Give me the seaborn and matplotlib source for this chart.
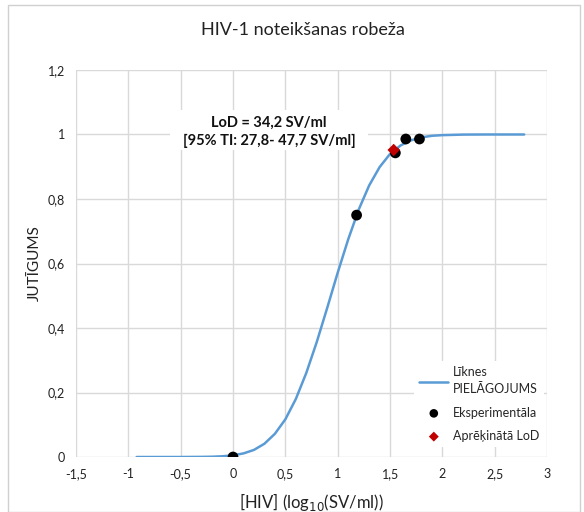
import matplotlib
matplotlib.use("Agg")
import matplotlib.pyplot as plt
import seaborn as sns
import pandas as pd
from matplotlib.patches import Rectangle

# Fitted curve
curve_x = [-0.92, -0.7, -0.5, -0.3, -0.2, -0.1, 0.0, 0.1, 0.2, 0.3, 0.4, 0.5, 0.6, 0.7, 0.8, 0.9,
           1.0, 1.1, 1.2, 1.3, 1.4, 1.5, 1.6, 1.7, 1.8, 1.9, 2.0, 2.2, 2.4, 2.78]
curve_y = [0.0, 0.0, 0.0, 0.0004, 0.0009, 0.0023, 0.0052, 0.0112, 0.022, 0.0412, 0.072, 0.117, 0.180,
           0.261, 0.357, 0.463, 0.572, 0.675, 0.767, 0.842, 0.899, 0.940, 0.966, 0.982, 0.991, 0.996,
           0.998, 0.9997, 1.0, 1.0]

# Experimental points
exp_x = [0.0, 1.18, 1.55, 1.65, 1.78]
exp_y = [0.0, 0.75, 0.943, 0.986, 0.986]

# Calculated LoD
lod_x = [1.534]
lod_y = [0.952]

x_ticks = [-1.5, -1, -0.5, 0, 0.5, 1, 1.5, 2, 2.5, 3]
x_labels = ["-1,5", "-1", "-0,5", "0", "0,5", "1", "1,5", "2", "2,5", "3"]
y_ticks = [0, 0.2, 0.4, 0.6, 0.8, 1.0, 1.2]
y_labels = ["0", "0,2", "0,4", "0,6", "0,8", "1", "1,2"]

sns.set_theme(style="white")
plt.rcParams['font.family'] = ['Lato', 'DejaVu Sans']

fig = plt.figure(figsize=(5.84, 5.12), dpi=100)
ax = fig.add_axes([0.130, 0.1074, 0.807, 0.7559])

curve_df = pd.DataFrame({"x": curve_x, "y": curve_y})
exp_df = pd.DataFrame({"x": exp_x, "y": exp_y})
lod_df = pd.DataFrame({"x": lod_x, "y": lod_y})

sns.lineplot(data=curve_df, x="x", y="y", ax=ax, color="#5B9BD5", linewidth=1.8,
             label="Līknes\nPIELĀGOJUMS", zorder=3)
sns.scatterplot(data=exp_df, x="x", y="y", ax=ax, color="black", s=60, edgecolor="none",
                label="Eksperimentāla", zorder=4)
sns.scatterplot(data=lod_df, x="x", y="y", ax=ax, color="#C00000", marker="D", s=40,
                edgecolor="none", label="Aprēķinātā LoD", zorder=5)

ax.set_xlim(-1.5, 3)
ax.set_ylim(0, 1.2)
ax.set_xticks(x_ticks)
ax.set_xticklabels(x_labels, fontsize=9)
ax.set_yticks(y_ticks)
ax.set_yticklabels(y_labels, fontsize=9)
ax.tick_params(length=0, pad=8, colors="#222222")
ax.grid(True, color="#d9d9d9", linewidth=1.0)
ax.set_axisbelow(True)
for s in ax.spines.values():
    s.set_visible(False)

ax.set_xlabel("[HIV] (log$_{10}$(SV/ml))", fontsize=12, color="#222222", labelpad=8)
ax.set_ylabel("JUTĪGUMS", fontsize=11, color="#222222", labelpad=4)
fig.text(0.518, 0.941, "HIV-1 noteikšanas robeža", ha="center", va="center", fontsize=13, color="#222222")

# white annotation box (covers gridlines)
ax.add_patch(Rectangle((0.1996, 0.793), 0.4204, 0.104, transform=ax.transAxes,
                       facecolor="white", edgecolor="none", zorder=2))
ax.text(0.41, 0.8405, "LoD = 34,2 SV/ml\n[95% TI: 27,8- 47,7 SV/ml]", transform=ax.transAxes,
        ha="center", va="center", fontsize=10.5, fontweight="bold", color="#111111",
        linespacing=1.4, zorder=6)

leg = ax.legend(loc="lower left", bbox_to_anchor=(0.705, 0.01), fontsize=9, frameon=True,
                facecolor="white", edgecolor="none", framealpha=1, handlelength=2.3,
                handletextpad=0.35, labelspacing=0.9, borderpad=0.4, markerscale=0.8)
leg.get_texts()[0].set_linespacing(1.5)

fig.patches.append(Rectangle((0.014, 0.0), 0.98, 0.99, transform=fig.transFigure,
                             fill=False, edgecolor="#d0d0d0", linewidth=1.0))

fig.savefig("out.png", dpi=100)
